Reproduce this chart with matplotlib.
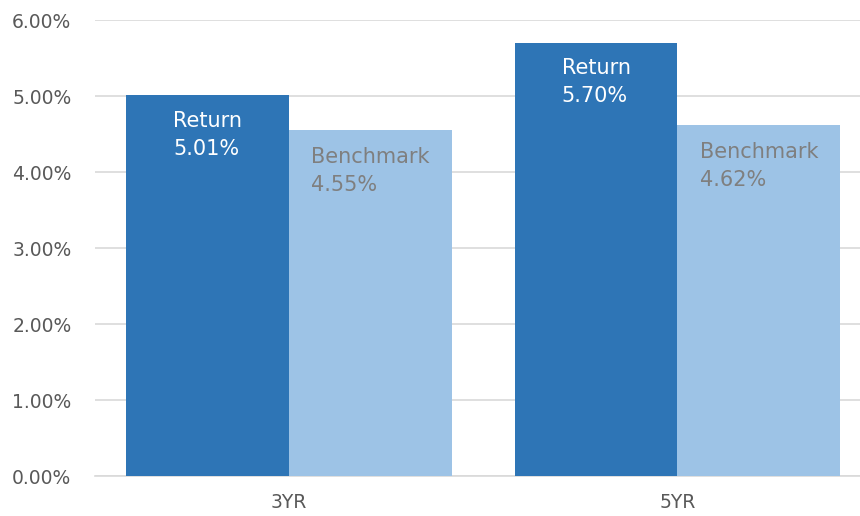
import numpy as np
import matplotlib.pyplot as plt

categories = ['3YR', '5YR']
return_vals = [5.01, 5.70]
benchmark_vals = [4.55, 4.62]
yticks = [0, 1, 2, 3, 4, 5, 6]

plt.rcParams['font.family'] = ['DejaVu Sans']

fig = plt.figure(figsize=(8.6, 5.16), dpi=100)
ax = fig.add_axes([0.1105, 0.0775, 0.8895, 0.8835])

x = np.arange(len(categories))
w = 0.419
b1 = ax.bar(x - w / 2, return_vals, w, color='#2E75B6', zorder=3)
b2 = ax.bar(x + w / 2, benchmark_vals, w, color='#9DC3E6', zorder=3)

for rect, v in zip(b1, return_vals):
    ax.annotate('Return\n%.2f%%' % v, (rect.get_x() + rect.get_width() / 2, v),
                xytext=(0, -11), textcoords='offset points', ha='center', va='top',
                multialignment='left', color='white', fontsize=15, zorder=4,
                linespacing=1.5)
for rect, v in zip(b2, benchmark_vals):
    ax.annotate('Benchmark\n%.2f%%' % v, (rect.get_x() + rect.get_width() / 2, v),
                xytext=(0, -12), textcoords='offset points', ha='center', va='top',
                multialignment='left', color='#7F7F7F', fontsize=15, zorder=4,
                linespacing=1.5)

ax.set_xlim(-0.5, 1.47)
ax.set_ylim(0, 6)
ax.set_yticks(yticks)
ax.set_yticklabels(['%.2f%%' % t for t in yticks])
ax.set_xticks(x)
ax.set_xticklabels(categories)
ax.grid(axis='y', color='#D9D9D9', linewidth=1.2, zorder=0)
for s in ['top', 'right', 'left']:
    ax.spines[s].set_visible(False)
ax.spines['bottom'].set_color('#D9D9D9')
ax.spines['bottom'].set_linewidth(1.2)
ax.tick_params(axis='both', length=0, labelsize=13.5, colors='#595959')
ax.tick_params(axis='x', pad=12)
ax.tick_params(axis='y', pad=17)

fig.savefig('out.png', dpi=100)
